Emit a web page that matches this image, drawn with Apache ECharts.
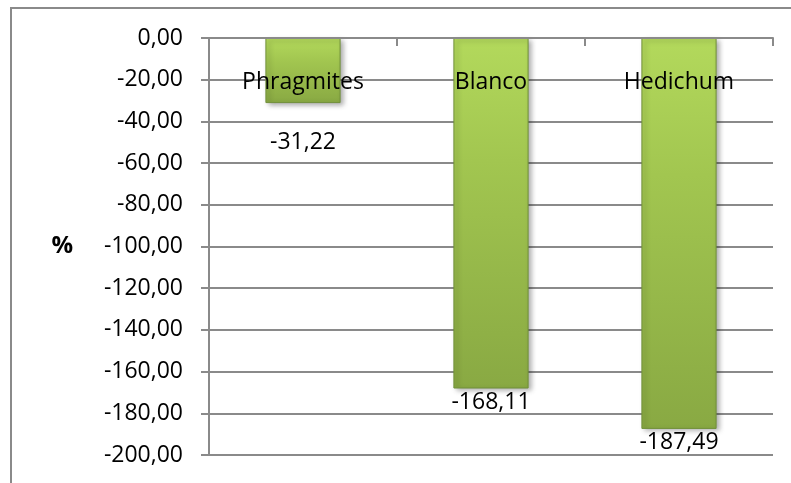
<!DOCTYPE html>
<html>
<head>
<meta charset="utf-8">
<script src="https://cdn.jsdelivr.net/npm/echarts@6/dist/echarts.min.js"></script>
<style>
  html, body { margin: 0; padding: 0; background: #fff; }
  #chart { width: 791px; height: 483px; }
</style>
</head>
<body>
<div id="chart"></div>
<script>
  // data
  var categories = ['Phragmites', 'Blanco', 'Hedichum']
  var values = [-31.22, -168.11, -187.49]
  var labelGaps = [28, 2, 2] // excel pushed the first label lower

  var fmt = function (v) {
    return v.toFixed(2).replace('.', ',')
  }

  var chart = echarts.init(document.getElementById('chart'))

  var barData = values.map(function (v, i) {
    return {
      value: v,
      label: { distance: labelGaps[i] }
    }
  })

  chart.setOption({
    backgroundColor: '#fff',
    animation: false,
    textStyle: { fontFamily: 'Open Sans' },
    graphic: [{
      type: 'rect',
      shape: { x: 11, y: 8, width: 900, height: 600 },
      style: { fill: 'none', stroke: '#8a8a8a', lineWidth: 2 },
      silent: true
    }],
    grid: {
      left: 209,
      right: 18,
      top: 38,
      bottom: 28,
      containLabel: false,
      outerBoundsMode: 'none'
    },
    xAxis: {
      type: 'category',
      position: 'top',
      data: categories,
      z: 10,
      axisLine: { lineStyle: { color: '#8a8a8a', width: 2 } },
      axisTick: { show: true, inside: true, length: 8, lineStyle: { color: '#8a8a8a', width: 2 } },
      axisLabel: {
        inside: true,
        margin: 33,
        color: '#000',
        fontSize: 23,
        fontFamily: 'Open Sans'
      }
    },
    yAxis: {
      type: 'value',
      min: -200,
      max: 0,
      interval: 20,
      name: '%',
      nameLocation: 'middle',
      nameRotate: 0,
      nameGap: 136,
      nameTextStyle: { color: '#000', fontSize: 24, fontWeight: 'bold', fontFamily: 'Open Sans' },
      axisLine: { show: true, lineStyle: { color: '#8a8a8a', width: 2 } },
      axisTick: { show: true, length: 8, lineStyle: { color: '#8a8a8a', width: 2 } },
      splitLine: { lineStyle: { color: '#8a8a8a', width: 2 } },
      axisLabel: {
        margin: 26,
        color: '#000',
        fontSize: 23,
        fontFamily: 'Open Sans',
        formatter: fmt
      }
    },
    series: [{
      type: 'bar',
      data: barData,
      barWidth: '40%',
      itemStyle: {
        color: new echarts.graphic.LinearGradient(0, 0, 0, 1, [
          { offset: 0, color: '#b3d95c' },
          { offset: 0.35, color: '#a2c650' },
          { offset: 1, color: '#89a943' }
        ]),
        borderColor: '#71903a',
        borderWidth: 1,
        shadowColor: 'rgba(0,0,0,0.35)',
        shadowBlur: 5,
        shadowOffsetX: 3,
        shadowOffsetY: 2
      },
      label: {
        show: true,
        position: 'bottom',
        color: '#000',
        fontSize: 23,
        fontFamily: 'Open Sans',
        formatter: function (p) { return fmt(p.value) }
      }
    }]
  })
</script>
</body>
</html>
